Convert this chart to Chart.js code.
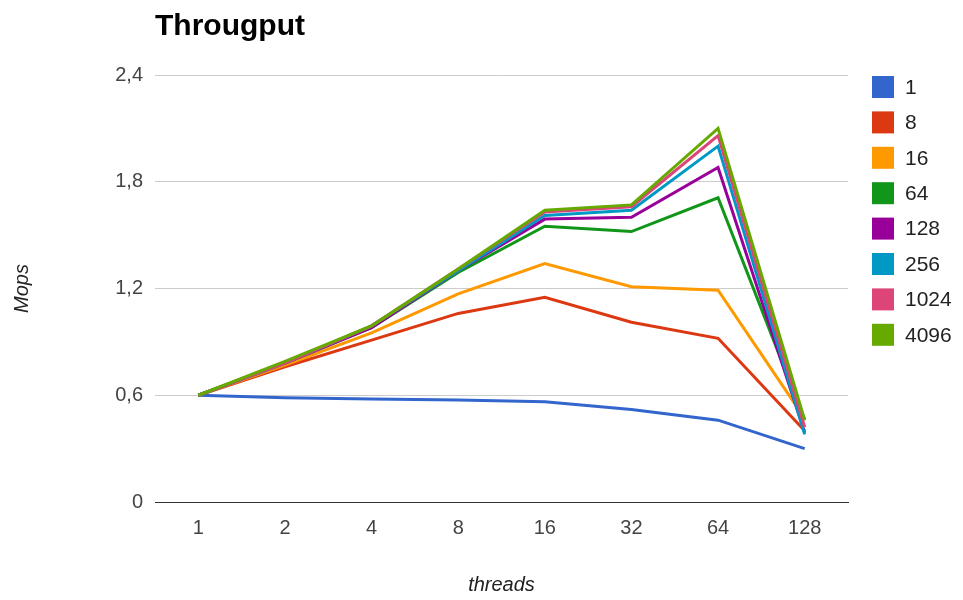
<!DOCTYPE html>
<html>
<head>
<meta charset="utf-8">
<title>Througput</title>
<script src="https://cdn.jsdelivr.net/npm/chart.js@4/dist/chart.umd.min.js"></script>
<style>
  html, body { margin: 0; padding: 0; background: #ffffff; }
  #wrap { position: relative; width: 963px; height: 600px; }
</style>
</head>
<body>
<div id="wrap"><canvas id="chart" width="963" height="600"></canvas></div>
<script>
// Thread counts on the x axis
const threads = ['1', '2', '4', '8', '16', '32', '64', '128'];

// Throughput in Mops for each series
const series1    = [0.60, 0.586, 0.579, 0.573, 0.564, 0.52, 0.46, 0.30];
const series8    = [0.60, 0.76, 0.91, 1.06, 1.15, 1.01, 0.92, 0.40];
const series16   = [0.60, 0.77, 0.95, 1.17, 1.34, 1.21, 1.19, 0.47];
const series64   = [0.60, 0.78, 0.98, 1.29, 1.55, 1.52, 1.71, 0.46];
const series128  = [0.60, 0.78, 0.98, 1.30, 1.59, 1.60, 1.88, 0.39];
const series256  = [0.60, 0.78, 0.99, 1.30, 1.61, 1.64, 2.00, 0.38];
const series1024 = [0.60, 0.78, 0.99, 1.31, 1.63, 1.66, 2.06, 0.42];
const series4096 = [0.60, 0.79, 0.99, 1.31, 1.64, 1.67, 2.10, 0.46];

const seriesNames  = ['1', '8', '16', '64', '128', '256', '1024', '4096'];
const seriesValues = [series1, series8, series16, series64, series128, series256, series1024, series4096];
const seriesColors = ['#3366cc', '#dc3912', '#ff9900', '#109618', '#990099', '#0099c6', '#dd4477', '#66aa00'];

// Value-axis ticks and their labels (decimal comma)
const yTicks      = [0, 0.6, 1.2, 1.8, 2.4];
const yTickLabels = ['0', '0,6', '1,2', '1,8', '2,4'];

const FONT = "Arial, 'Liberation Sans', sans-serif";

const datasets = seriesNames.map((name, i) => ({
  label: name,
  data: seriesValues[i],
  borderColor: seriesColors[i],
  backgroundColor: seriesColors[i],
  borderWidth: 3,
  pointRadius: 0,
  pointHoverRadius: 0,
  tension: 0,
  fill: false,
  order: seriesNames.length - i
}));

// Title in the top-left corner and the legend column on the right
const decorations = {
  id: 'decorations',
  afterDraw(chart) {
    const ctx = chart.ctx;
    const area = chart.chartArea;
    ctx.save();
    ctx.fillStyle = '#000000';
    ctx.font = 'bold 30px ' + FONT;
    ctx.textAlign = 'left';
    ctx.textBaseline = 'alphabetic';
    ctx.fillText('Througput', area.left, 35);

    const boxX = 872, boxSize = 22, firstTop = 76, rowGap = 35.4;
    ctx.font = '21px ' + FONT;
    ctx.textBaseline = 'middle';
    seriesNames.forEach((name, i) => {
      const top = firstTop + i * rowGap;
      ctx.fillStyle = seriesColors[i];
      ctx.fillRect(boxX, top, boxSize, boxSize);
      ctx.fillStyle = '#222222';
      ctx.fillText(name, boxX + boxSize + 11, top + boxSize / 2 + 1);
    });
    ctx.restore();
  }
};

new Chart(document.getElementById('chart'), {
  type: 'line',
  data: { labels: threads, datasets },
  options: {
    responsive: false,
    animation: false,
    layout: { padding: { top: 75, right: 115, left: 0, bottom: 0 } },
    plugins: {
      legend: { display: false },
      title: { display: false },
      tooltip: { enabled: false }
    },
    scales: {
      x: {
        offset: true,
        grid: { display: false, drawTicks: false },
        border: { display: true, color: '#333333', width: 1 },
        ticks: { color: '#444444', font: { family: FONT, size: 20 }, padding: 14, maxRotation: 0 },
        title: {
          display: true, text: 'threads', color: '#222222',
          font: { family: FONT, size: 20, style: 'italic' },
          padding: { top: 0, bottom: 3 }
        },
        afterFit(scale) { scale.height = 98; }
      },
      y: {
        min: 0,
        max: 2.4,
        afterBuildTicks(scale) { scale.ticks = yTicks.map(v => ({ value: v })); },
        grid: {
          drawTicks: false,
          color: ctx => (ctx.tick && ctx.tick.value === 0) ? '#333333' : '#cccccc',
          lineWidth: 1
        },
        border: { display: false },
        ticks: {
          color: '#444444',
          font: { family: FONT, size: 20 },
          padding: 12,
          callback: (v, i) => yTickLabels[i]
        },
        title: {
          display: true, text: 'Mops', color: '#222222',
          font: { family: FONT, size: 20, style: 'italic' },
          padding: { top: 10, bottom: 0 }
        },
        afterFit(scale) { scale.width = 155; }
      }
    }
  },
  plugins: [decorations]
});
</script>
</body>
</html>
